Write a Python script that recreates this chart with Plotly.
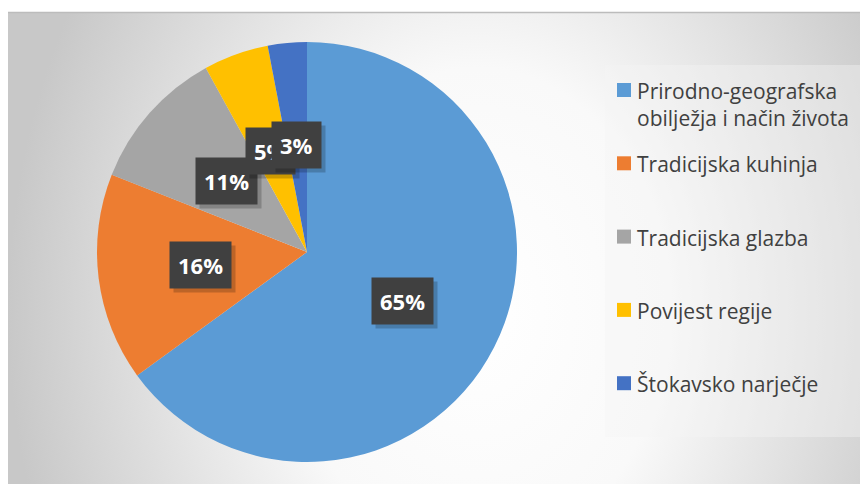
import math
import plotly.graph_objects as go

W, H = 868, 484
OFF = 8  # the page body adds an 8px margin

labels = ["Prirodno-geografska obilježja i način života", "Tradicijska kuhinja",
          "Tradicijska glazba", "Povijest regije", "Štokavsko narječje"]
legend_text = ["Prirodno-geografska<br>obilježja i način života", "Tradicijska kuhinja",
               "Tradicijska glazba", "Povijest regije", "Štokavsko narječje"]
values = [65, 16, 11, 5, 3]
colors = ["#5B9BD5", "#ED7D31", "#A5A5A5", "#FFC000", "#4472C4"]

# pie geometry in screen pixels
cx, cy, r = 307, 252, 210

def px(x):
  return (x - OFF) / W

def py(y):
  return 1 - (y - OFF) / H

bg_svg = (
  "data:image/svg+xml;utf8,"
  "<svg xmlns='http://www.w3.org/2000/svg' width='868' height='480' viewBox='0 0 868 480' preserveAspectRatio='none'>"
  "<defs><radialGradient id='g' gradientUnits='userSpaceOnUse' cx='470' cy='300' r='470' "
  "gradientTransform='translate(470 300) scale(1 1.3) translate(-470 -300)'>"
  "<stop offset='0' stop-color='%23ffffff'/>"
  "<stop offset='0.4' stop-color='%23f9f9f9'/>"
  "<stop offset='1' stop-color='%23c8c8c8'/>"
  "</radialGradient></defs>"
  "<rect width='868' height='480' fill='url(%23g)'/></svg>"
)

fig = go.Figure()
fig.add_trace(go.Pie(
  labels=labels,
  values=values,
  marker=dict(colors=colors, line=dict(width=0)),
  sort=False,
  direction="clockwise",
  rotation=0,
  textinfo="none",
  hoverinfo="label+percent",
  domain=dict(x=[px(cx - r), px(cx + r)], y=[py(cy + r), py(cy - r)]),
  showlegend=False,
))

annotations = []
total = sum(values)
cum = 0
for v in values:
  mid = (cum + v / 2) / total * 2 * math.pi
  cum += v
  lx = cx + 0.51 * r * math.sin(mid)
  ly = cy - 0.51 * r * math.cos(mid)
  txt = "<b>%d%%</b>" % round(v / total * 100)
  # shadow
  annotations.append(dict(
    x=px(lx + 4), y=py(ly + 4), xref="paper", yref="paper", showarrow=False,
    xanchor="center", yanchor="middle",
    text=txt, font=dict(family="Open Sans", size=22, color="rgba(0,0,0,0)"),
    bgcolor="rgba(0,0,0,0.2)", borderpad=8,
  ))
  annotations.append(dict(
    x=px(lx), y=py(ly), xref="paper", yref="paper", showarrow=False,
    xanchor="center", yanchor="middle",
    text=txt, font=dict(family="Open Sans", size=22, color="white"),
    bgcolor="#404040", borderpad=8,
  ))

shapes = [
  dict(type="rect", xref="paper", yref="paper", x0=px(605), x1=px(861), y0=py(437), y1=py(65),
       fillcolor="rgba(245,245,245,0.4)", line=dict(width=0), layer="below"),
  dict(type="line", xref="paper", yref="paper", x0=px(8), x1=px(868), y0=py(12.5), y1=py(12.5),
       line=dict(color="#bcbcbc", width=1.5)),
]

# hand-made legend
for i, (t, c) in enumerate(zip(legend_text, colors)):
  yc = 90 + i * 73.3
  shapes.append(dict(type="rect", xref="paper", yref="paper",
                     x0=px(617), x1=px(631), y0=py(yc + 7), y1=py(yc - 7),
                     fillcolor=c, line=dict(width=0)))
  annotations.append(dict(
    x=px(635), y=py(yc - 15), xref="paper", yref="paper", showarrow=False,
    xanchor="left", yanchor="top", align="left", text=t,
    font=dict(family="Open Sans", size=21, color="#404040"),
  ))

fig.update_layout(
  width=W, height=H,
  margin=dict(l=0, r=0, t=0, b=0),
  paper_bgcolor="white",
  plot_bgcolor="white",
  showlegend=False,
  images=[dict(source=bg_svg, xref="paper", yref="paper", x=0, y=py(12),
               sizex=1, sizey=py(12), xanchor="left", yanchor="top",
               sizing="stretch", layer="below")],
  shapes=shapes,
  annotations=annotations,
)

fig.write_html("out.html")
